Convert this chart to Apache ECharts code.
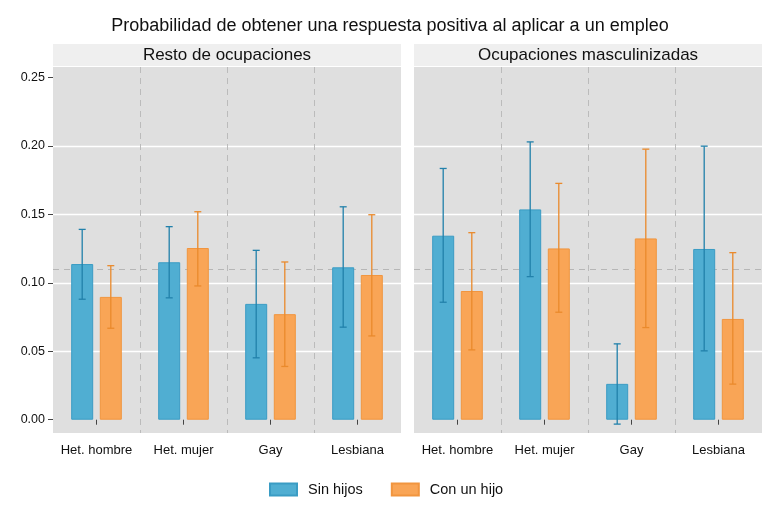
<!DOCTYPE html>
<html>
<head>
<meta charset="utf-8">
<script src="https://cdn.jsdelivr.net/npm/echarts@6/dist/echarts.min.js"></script>
<style>
  html, body { margin: 0; padding: 0; background: #fff; }
  #chart { width: 780px; height: 515px; }
</style>
</head>
<body>
<div id="chart"></div>
<script>
// datos
var categorias = ['Het. hombre', 'Het. mujer', 'Gay', 'Lesbiana'];
var panelNames = ['Resto de ocupaciones', 'Ocupaciones masculinizadas'];
var yTicks = [0, 0.05, 0.10, 0.15, 0.20, 0.25];
var promedio = 0.1135;

// Resto de ocupaciones
var restoSin = [0.1137, 0.1150, 0.0846, 0.1113];
var restoSinLo = [0.0880, 0.0890, 0.0452, 0.0676];
var restoSinHi = [0.1390, 0.1410, 0.1237, 0.1555];
var restoCon = [0.0897, 0.1254, 0.0771, 0.1057];
var restoConLo = [0.0668, 0.0977, 0.0389, 0.0612];
var restoConHi = [0.1125, 0.1519, 0.1152, 0.1497];

// Ocupaciones masculinizadas
var mascSin = [0.1344, 0.1536, 0.0262, 0.1247];
var mascSinLo = [0.0858, 0.1045, -0.0032, 0.0503];
var mascSinHi = [0.1835, 0.2029, 0.0554, 0.1998];
var mascCon = [0.0940, 0.1251, 0.1324, 0.0736];
var mascConLo = [0.0510, 0.0785, 0.0673, 0.0260];
var mascConHi = [0.1366, 0.1726, 0.1976, 0.1220];

var FONT = 'Liberation Sans, Arial, sans-serif';
var BAR_W = 22;
var BAR_GAP = 0.3;
var OFFSET = (BAR_W + BAR_W * BAR_GAP) / 2;

var azul = '#50AED2', azulBorde = '#3A9CC4', azulErr = '#2281AB';
var naranja = '#F9A556', naranjaBorde = '#F1953F', naranjaErr = '#EA8A2C';

var chart = echarts.init(document.getElementById('chart'));

function barSeries(name, idx, data, color, border, withLine) {
  var s = {
    type: 'bar',
    name: name,
    xAxisIndex: idx,
    yAxisIndex: idx,
    data: data,
    barWidth: BAR_W,
    barGap: (BAR_GAP * 100) + '%',
    itemStyle: { color: color, borderColor: border, borderWidth: 1 },
    emphasis: { disabled: true },
    z: 2
  };
  if (withLine) {
    s.markLine = {
      silent: true,
      symbol: 'none',
      z: 1,
      label: { show: false },
      lineStyle: { color: '#B6B6B6', type: [6, 5], width: 1 },
      data: [{ yAxis: promedio }]
    };
  }
  return s;
}

// barras de error (intervalo de confianza)
function errSeries(idx, lo, hi, off, color) {
  return {
    type: 'custom',
    xAxisIndex: idx,
    yAxisIndex: idx,
    z: 3,
    silent: true,
    data: categorias.map(function (c, i) { return [i, lo[i], hi[i]]; }),
    encode: { x: 0, y: [1, 2] },
    renderItem: function (params, api) {
      var a = api.coord([api.value(0), api.value(1)]);
      var b = api.coord([api.value(0), api.value(2)]);
      var x = a[0] + off;
      var cap = 3.5;
      var st = { stroke: color, lineWidth: 1.3 };
      return {
        type: 'group',
        children: [
          { type: 'line', shape: { x1: x, y1: a[1], x2: x, y2: b[1] }, style: st },
          { type: 'line', shape: { x1: x - cap, y1: a[1], x2: x + cap, y2: a[1] }, style: st },
          { type: 'line', shape: { x1: x - cap, y1: b[1], x2: x + cap, y2: b[1] }, style: st }
        ]
      };
    }
  };
}

var gridLefts = [53, 414];
var gridW = 348;

var option = {
  animation: false,
  backgroundColor: '#fff',
  textStyle: { fontFamily: FONT },
  title: {
    text: 'Probabilidad de obtener una respuesta positiva al aplicar a un empleo',
    left: 'center',
    top: 12,
    textStyle: { fontFamily: FONT, fontSize: 18, fontWeight: 'normal', color: '#111' }
  },
  legend: {
    data: ['Sin hijos', 'Con un hijo'],
    left: 269,
    top: 482,
    padding: 0,
    icon: 'rect',
    itemWidth: 27,
    itemHeight: 12,
    itemGap: 28,
    textStyle: { fontFamily: FONT, fontSize: 14.5, color: '#111', padding: [0, 0, 0, 6] }
  },
  grid: gridLefts.map(function (l) {
    return { left: l, top: 67, width: gridW, height: 366, show: true, backgroundColor: '#DFDFDF', borderWidth: 0 };
  }),
  graphic: gridLefts.map(function (l, i) {
    return {
      type: 'group',
      children: [
        { type: 'rect', shape: { x: l, y: 44, width: gridW, height: 22 }, style: { fill: '#EFEFEF' } },
        { type: 'text', x: l + gridW / 2, y: 55, style: { text: panelNames[i], font: '17px ' + FONT, fill: '#111', align: 'center', verticalAlign: 'middle' } }
      ]
    };
  }),
  xAxis: [0, 1].map(function (i) {
    return {
      type: 'category',
      gridIndex: i,
      data: categorias,
      axisLine: { show: false },
      axisTick: { show: true, interval: 0, alignWithLabel: true, length: 5, lineStyle: { color: '#444' } },
      axisLabel: { interval: 0, hideOverlap: false, margin: 11, fontSize: 13, color: '#111', fontFamily: FONT },
      splitLine: { show: true, interval: 0, showMinLine: false, showMaxLine: false, lineStyle: { color: '#BBBBBB', type: [6, 5], width: 1 } }
    };
  }),
  yAxis: [0, 1].map(function (i) {
    return {
      type: 'value',
      gridIndex: i,
      min: -0.0097,
      max: 0.2576,
      axisLine: { show: false },
      axisTick: { show: i === 0, customValues: yTicks, length: 5, lineStyle: { color: '#444' } },
      axisLabel: {
        show: i === 0,
        customValues: yTicks,
        margin: 8,
        fontSize: 12.5,
        color: '#111',
        fontFamily: FONT,
        formatter: function (v) { return v.toFixed(2); }
      },
      splitLine: { show: true, showMinLine: false, showMaxLine: false, lineStyle: { color: '#FFFFFF', width: 1.3 } }
    };
  }),
  series: [
    barSeries('Sin hijos', 0, restoSin, azul, azulBorde, true),
    barSeries('Con un hijo', 0, restoCon, naranja, naranjaBorde, false),
    barSeries('Sin hijos', 1, mascSin, azul, azulBorde, true),
    barSeries('Con un hijo', 1, mascCon, naranja, naranjaBorde, false),
    errSeries(0, restoSinLo, restoSinHi, -OFFSET, azulErr),
    errSeries(0, restoConLo, restoConHi, OFFSET, naranjaErr),
    errSeries(1, mascSinLo, mascSinHi, -OFFSET, azulErr),
    errSeries(1, mascConLo, mascConHi, OFFSET, naranjaErr)
  ]
};

chart.setOption(option);
</script>
</body>
</html>
